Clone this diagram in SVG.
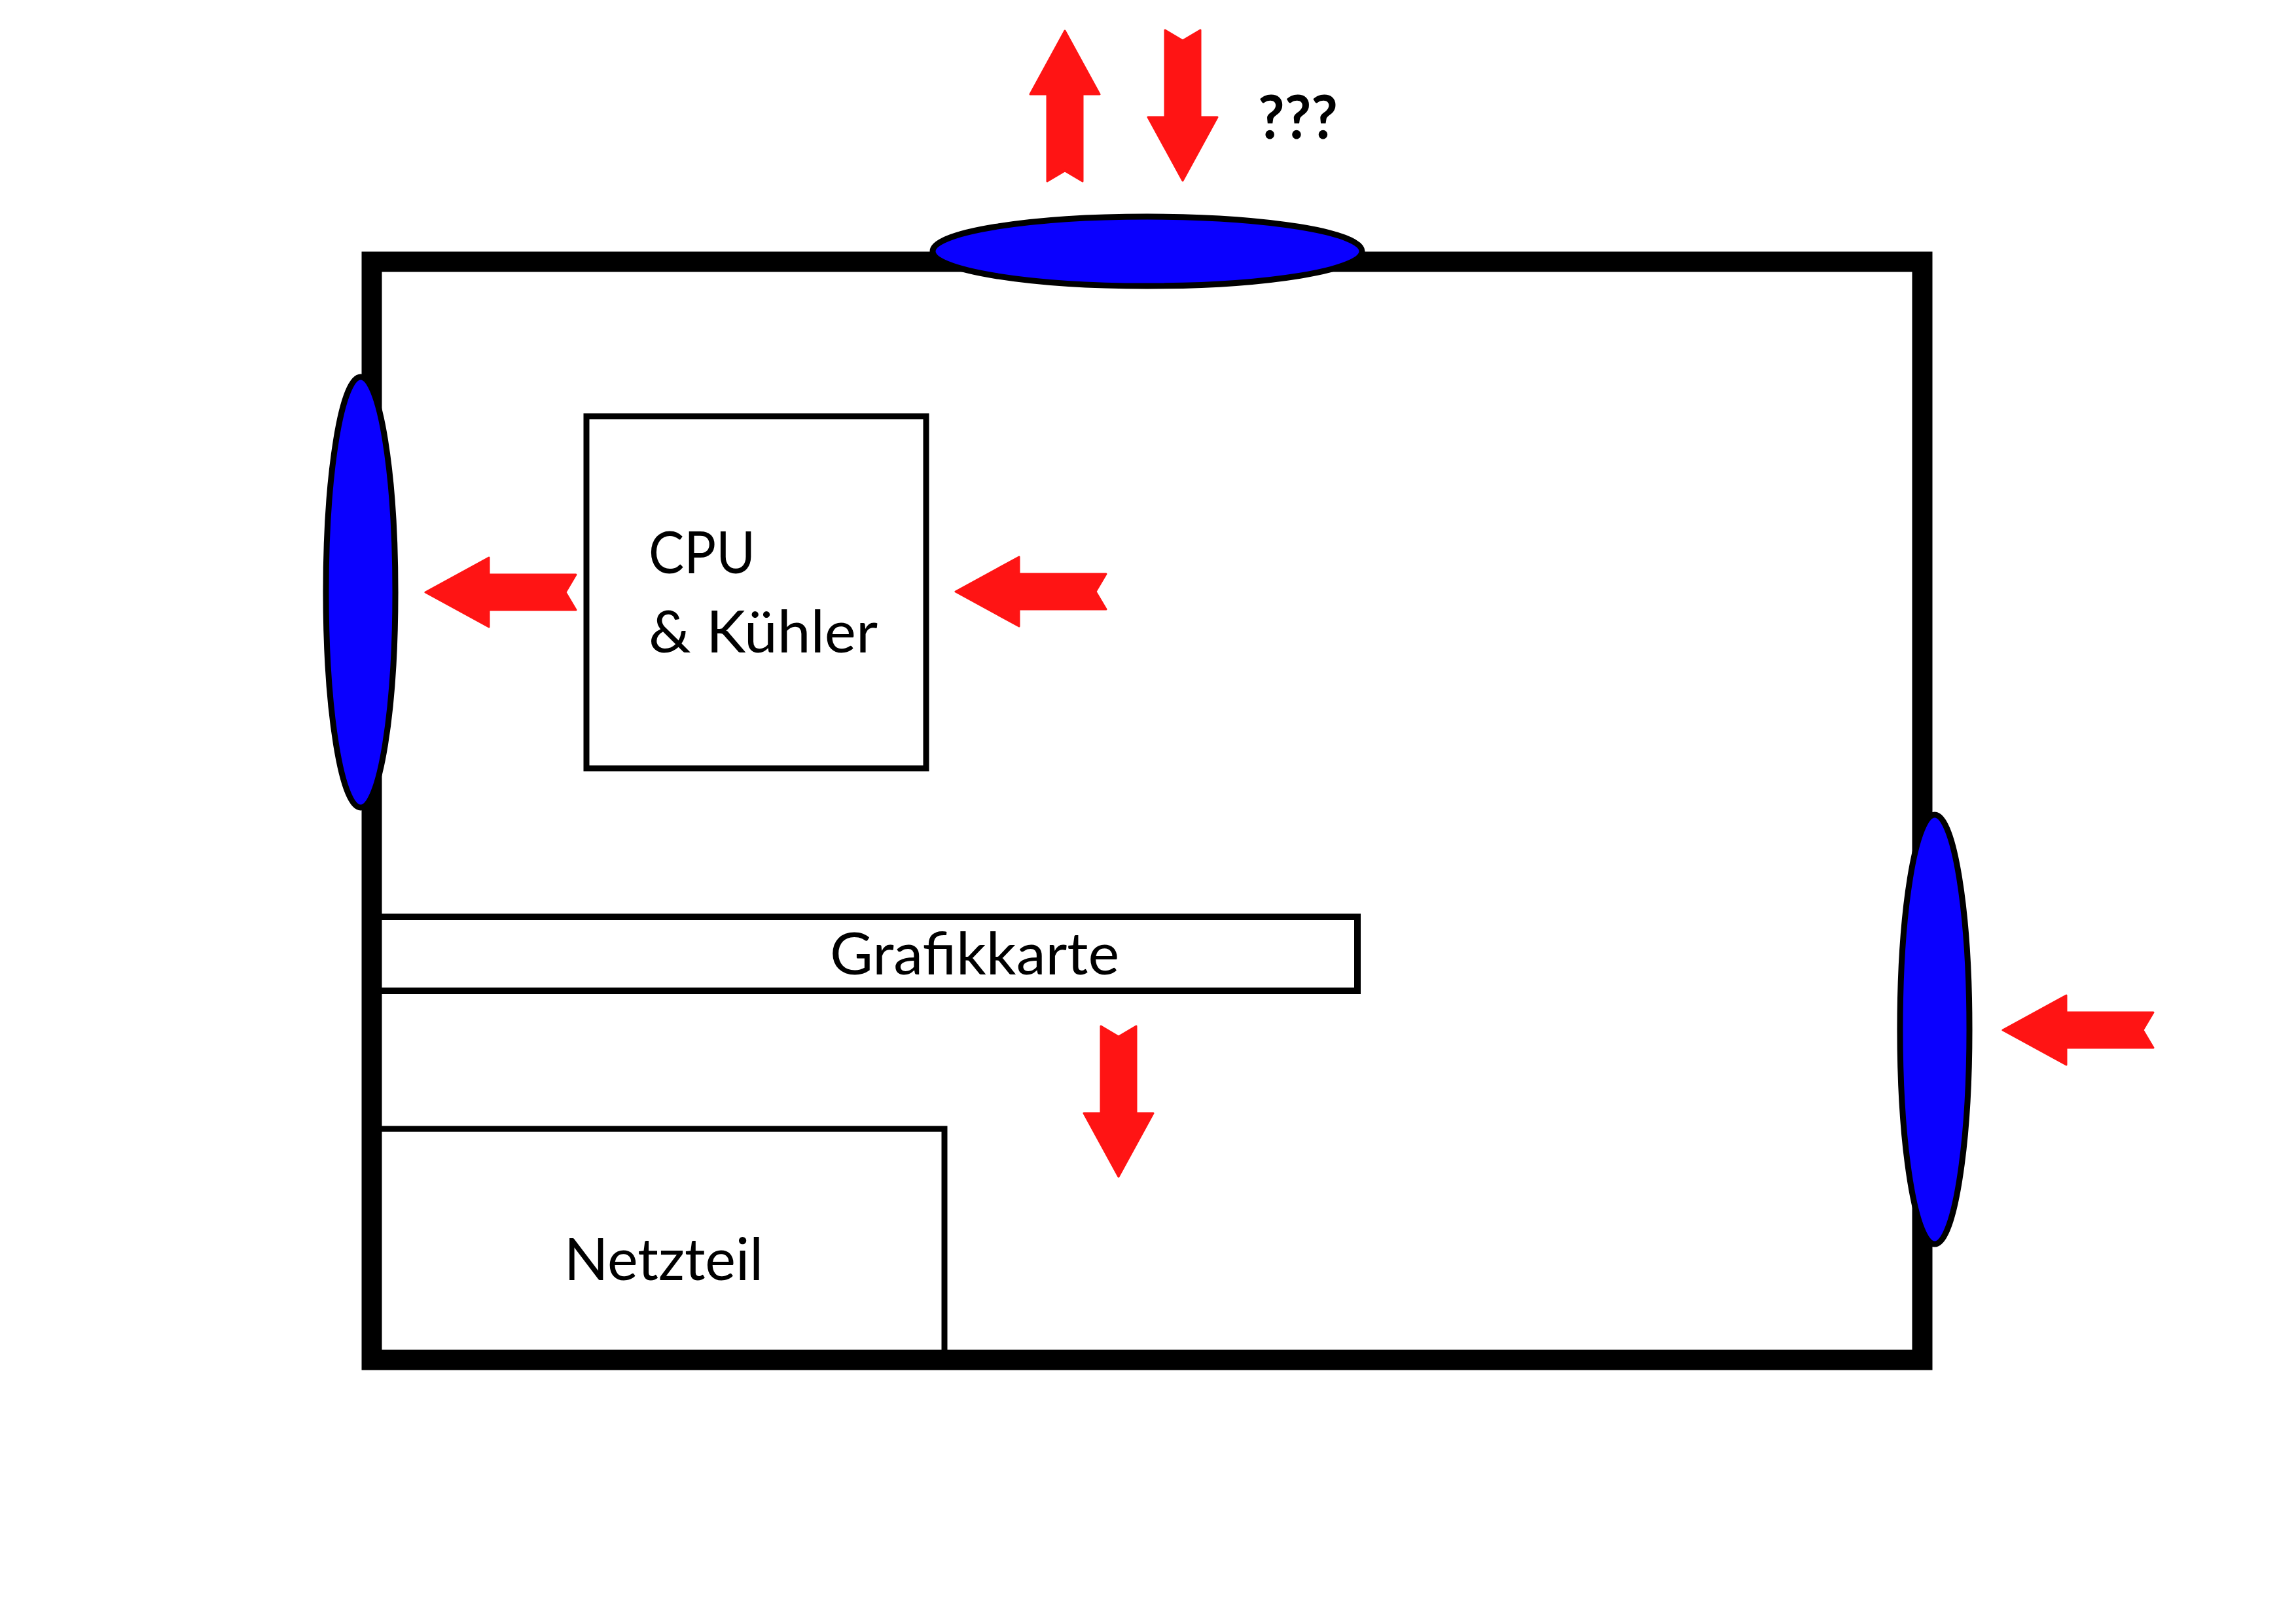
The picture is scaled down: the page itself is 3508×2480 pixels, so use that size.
<svg xmlns="http://www.w3.org/2000/svg" width="3508" height="2480" viewBox="0 0 3508 2480">
  <style>
    .part { fill: none; stroke: #000; }
    .fan { fill: #0a00ff; stroke: #000; stroke-width: 9; }
    .lbl { font-family: Lato, "Open Sans", "Liberation Sans", sans-serif; font-size: 90px; fill: #000; }
    .q { font-family: Lato, "Open Sans", "Liberation Sans", sans-serif; font-size: 92px; font-weight: bold; fill: #000; }
    .arrow { fill: #ff1414; stroke: #ff1414; stroke-width: 3; stroke-linejoin: round; }
  </style>
  <defs>
    <path id="arr" d="M0,0 L53,97 L27,97 L27,230 L0,214 L-27,230 L-27,97 L-53,97 Z"/>
  </defs>
  <rect width="3508" height="2480" fill="#fff"/>

  <g id="gpu">
    <rect class="part" x="568" y="1401" width="1506" height="113" stroke-width="10"/>
    <text class="lbl" x="1268" y="1489" textLength="442" lengthAdjust="spacingAndGlyphs">Grafikkarte</text>
  </g>
  <g id="psu">
    <rect class="part" x="568" y="1725" width="875" height="353" stroke-width="9"/>
    <text class="lbl" x="862" y="1956" textLength="304" lengthAdjust="spacingAndGlyphs">Netzteil</text>
  </g>
  <g id="cpu">
    <rect class="part" x="896" y="636" width="519" height="538" stroke-width="9"/>
    <text class="lbl" x="991" y="876" textLength="163" lengthAdjust="spacingAndGlyphs">CPU</text>
    <text class="lbl" x="991" y="997" textLength="350" lengthAdjust="spacingAndGlyphs">&amp; Kühler</text>
  </g>

  <g id="case">
    <rect class="part" x="568" y="400" width="2369" height="1678" stroke-width="31"/>
  </g>

  <g id="fan-top">
    <ellipse class="fan" cx="1753" cy="384" rx="328" ry="53"/>
  </g>
  <g id="fan-left">
    <ellipse class="fan" cx="551" cy="905" rx="53" ry="329"/>
  </g>
  <g id="fan-right">
    <ellipse class="fan" cx="2956" cy="1573" rx="53" ry="328"/>
  </g>

  <g id="question">
    <text class="q" x="1922" y="212" textLength="122" lengthAdjust="spacingAndGlyphs">???</text>
  </g>

  <g id="connectors">
    <use href="#arr" class="arrow" transform="translate(1627,47)"/>
    <use href="#arr" class="arrow" transform="translate(1807,276) rotate(180)"/>
    <use href="#arr" class="arrow" transform="translate(650,905) rotate(-90)"/>
    <use href="#arr" class="arrow" transform="translate(1460,904) rotate(-90)"/>
    <use href="#arr" class="arrow" transform="translate(3060,1574) rotate(-90)"/>
    <use href="#arr" class="arrow" transform="translate(1709,1798) rotate(180)"/>
  </g>
</svg>
